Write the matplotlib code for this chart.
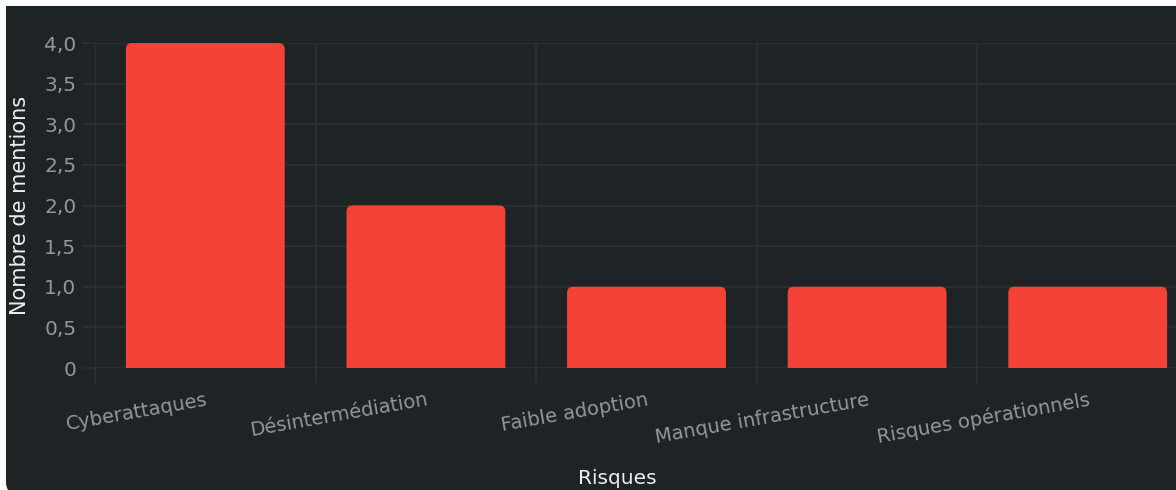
import matplotlib
matplotlib.use("Agg")
import matplotlib.pyplot as plt
import numpy as np
from matplotlib.patches import FancyBboxPatch, Rectangle
from matplotlib.transforms import IdentityTransform

risques = ["Cyberattaques", "Désintermédiation", "Faible adoption",
           "Manque infrastructure", "Risques opérationnels"]
mentions = [4, 2, 1, 1, 1]
y_ticks = [0, 0.5, 1.0, 1.5, 2.0, 2.5, 3.0, 3.5, 4.0]

BG = "#1e2426"
BAR = "#f44336"
GRID = "#2b3234"
TICK_TXT = "#92989a"
LABEL_TXT = "#eceff0"

plt.rcParams["font.family"] = ["DejaVu Sans"]

W, H = 1176, 490
fig = plt.figure(figsize=(W / 100, H / 100), dpi=100, facecolor="white")

# dark card behind the chart (rounded bottom-left, square top-left)
fig.add_artist(FancyBboxPatch((6, -4), W + 40, H - 6 + 4,
                              boxstyle="round,pad=0,rounding_size=12",
                              transform=IdentityTransform(), facecolor=BG,
                              edgecolor="none", zorder=0))
fig.add_artist(Rectangle((6, 200), W + 40, H - 6 - 200,
                         transform=IdentityTransform(), facecolor=BG,
                         edgecolor="none", zorder=0))

# plot area (the last band runs past the right edge)
left, bottom, top = 95, 368, 43
band_px = 220.6
ax = fig.add_axes([left / W, (H - bottom) / H,
                   band_px * len(risques) / W, (bottom - top) / H])
ax.set_facecolor("none")
ax.set_xlim(-0.5, len(risques) - 0.5)
ax.set_ylim(0, 4)

# bars with rounded top corners
bar_w = 0.72
rx = 6 / band_px
ry = 6 / ((bottom - top) / 4)
for i, v in enumerate(mentions):
    p = FancyBboxPatch((i - bar_w / 2, -ry), bar_w, v + ry,
                       boxstyle=f"round,pad=0,rounding_size={rx}",
                       mutation_aspect=ry / rx, facecolor=BAR,
                       edgecolor="none", zorder=3)
    ax.add_patch(p)

# grid
edges = np.arange(len(risques) + 1) - 0.5
ax.set_xticks(edges, minor=True)
ax.set_xticks(range(len(risques)))
ax.set_xticklabels(risques, rotation=10, ha="right", rotation_mode="anchor",
                   fontsize=14, color=TICK_TXT)
ax.set_yticks(y_ticks)
ax.set_yticklabels(["0" if t == 0 else f"{t:.1f}".replace(".", ",") for t in y_ticks],
                   fontsize=14.5, color=TICK_TXT)
ax.grid(True, axis="y", which="major", color=GRID, linewidth=1.2, zorder=0)
ax.grid(True, axis="x", which="minor", color=GRID, linewidth=1.2, zorder=0)
ax.tick_params(axis="x", which="major", length=0, pad=16)
ax.tick_params(axis="x", which="minor", length=11, width=1.2, color=GRID)
ax.tick_params(axis="y", length=9.5, width=1.2, color=GRID, pad=4)
for s in ax.spines.values():
    s.set_visible(False)

fig.text(617 / W, 1 - 478 / H, "Risques", ha="center", va="center",
         fontsize=14.5, color=LABEL_TXT)
fig.text(20 / W, 1 - 205 / H, "Nombre de mentions", ha="center", va="center",
         rotation=90, fontsize=15, color=LABEL_TXT)

fig.savefig("out.png", dpi=100, facecolor="white")
